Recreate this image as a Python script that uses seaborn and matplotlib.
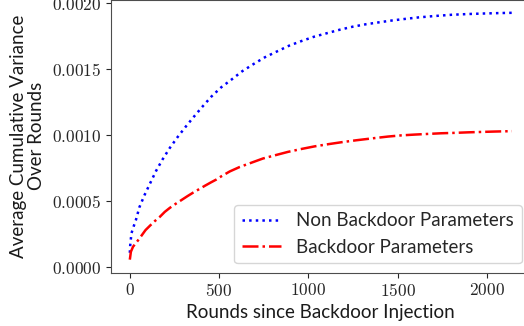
import pandas as pd
import seaborn as sns
import matplotlib.pyplot as plt
from matplotlib.ticker import FuncFormatter

# values (rounds since injection -> avg cumulative variance)
rounds_non = [0, 2, 9, 22, 34, 54, 82, 114, 147, 183, 222, 267, 312, 358, 409,
              457, 511, 571, 629, 693, 756, 825, 892, 961, 1032, 1105, 1176, 1249,
              1321, 1396, 1469, 1543, 1616, 1700, 1801, 1900, 1988, 2070, 2140]
var_non = [0.000110, 0.000163, 0.000257, 0.000312, 0.000358, 0.000456, 0.000546,
           0.000637, 0.000730, 0.000816, 0.000900, 0.000985, 0.001063, 0.001139,
           0.001220, 0.001293, 0.001362, 0.001423, 0.001484, 0.001539, 0.001590,
           0.001635, 0.001678, 0.001713, 0.001746, 0.001773, 0.001799, 0.001822,
           0.001840, 0.001855, 0.001869, 0.001881, 0.001892, 0.001902, 0.001912,
           0.001918, 0.001922, 0.001925, 0.001927]

rounds_bd = [0, 6, 18, 43, 65, 88, 112, 140, 168, 196, 224, 256, 289, 323, 354,
             386, 420, 453, 485, 510, 560, 616, 681, 746, 821, 886, 961, 1036,
             1110, 1185, 1269, 1362, 1446, 1521, 1596, 1670, 1745, 1820, 1895,
             1969, 2044, 2140]
var_bd = [0.000058, 0.000118, 0.000156, 0.000199, 0.000239, 0.000282, 0.000314,
          0.000350, 0.000382, 0.000420, 0.000450, 0.000480, 0.000509, 0.000539,
          0.000565, 0.000590, 0.000617, 0.000642, 0.000665, 0.000687, 0.000726,
          0.000760, 0.000792, 0.000824, 0.000851, 0.000874, 0.000896, 0.000916,
          0.000932, 0.000947, 0.000962, 0.000977, 0.000990, 0.000999, 0.001005,
          0.001010, 0.001015, 0.001018, 0.001022, 0.001025, 0.001028, 0.001031]

label_non = 'Non Backdoor Parameters'
label_bd = 'Backdoor Parameters'

sns.set_style('ticks')
plt.rcParams['font.family'] = ['Lato', 'DejaVu Sans']
plt.rcParams['mathtext.fontset'] = 'cm'
plt.rcParams['axes.edgecolor'] = '0.3'
plt.rcParams['xtick.major.size'] = 3.5
plt.rcParams['ytick.major.size'] = 3.5

df_non = pd.DataFrame({'rounds': rounds_non, 'var': var_non})
df_bd = pd.DataFrame({'rounds': rounds_bd, 'var': var_bd})

fig = plt.figure(figsize=(5.24, 3.26), dpi=100)
ax = fig.add_axes([0.2113, 0.1635, 0.802, 0.8365])

sns.lineplot(data=df_non, x='rounds', y='var', ax=ax, color='blue',
             linestyle=':', linewidth=1.8, label=label_non)
sns.lineplot(data=df_bd, x='rounds', y='var', ax=ax, color='red',
             linestyle='-.', linewidth=1.8, label=label_bd)

ax.set_xlim(-107, 2247)
ax.set_ylim(-0.0000408, 0.002024)
ax.set_xticks([0, 500, 1000, 1500, 2000])
ax.set_yticks([0.0, 0.0005, 0.0010, 0.0015, 0.0020])
ax.xaxis.set_major_formatter(FuncFormatter(lambda v, p: f'${v:.0f}$'))
ax.yaxis.set_major_formatter(FuncFormatter(lambda v, p: f'${v:.4f}$'))
ax.tick_params(labelsize=12.5, colors='0.15')

ax.set_xlabel('Rounds since Backdoor Injection', fontsize=13.5, color='0.1',
              labelpad=3)
ax.set_ylabel('Average Cumulative Variance\nOver Rounds', fontsize=13.5,
              color='0.1', linespacing=1.05, labelpad=5)

ax.legend(loc='lower right', fontsize=13.5, frameon=True, handlelength=2.1)

plt.savefig('out.png', dpi=100)
